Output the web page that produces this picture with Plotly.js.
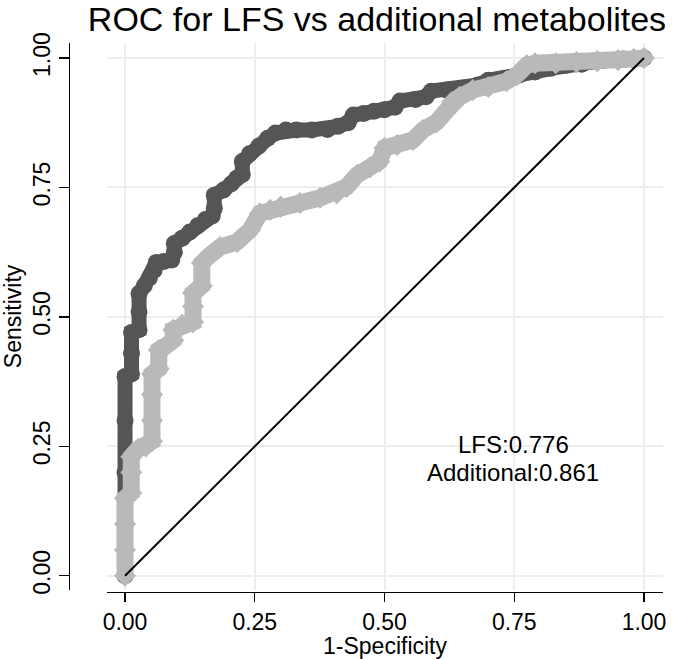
<!DOCTYPE html>
<html>
<head>
<meta charset="utf-8">
<script src="https://cdn.plot.ly/plotly-3.0.1.min.js"></script>
<style>html,body{margin:0;padding:0;background:#fff;}#chart{width:680px;height:659px;}</style>
</head>
<body>
<div id="chart"></div>
<script>
// Dark curve (Additional, AUC 0.861)
const fprAdditional = [0, 0, 0, 0, 0, 0.0125, 0.0125, 0.0125, 0.027, 0.027, 0.027, 0.037, 0.047, 0.056, 0.06, 0.075, 0.09, 0.095, 0.095, 0.11, 0.125, 0.14, 0.155, 0.168, 0.172, 0.172, 0.19, 0.205, 0.215, 0.226, 0.226, 0.24, 0.258, 0.275, 0.29, 0.31, 0.33, 0.36, 0.39, 0.41, 0.43, 0.44, 0.46, 0.48, 0.50, 0.52, 0.53, 0.56, 0.58, 0.59, 0.62, 0.65, 0.68, 0.70, 0.73, 0.76, 0.79, 0.82, 0.85, 0.88, 0.92, 0.96, 1];
const tprAdditional = [0, 0.10, 0.20, 0.30, 0.385, 0.39, 0.43, 0.47, 0.475, 0.51, 0.545, 0.56, 0.575, 0.59, 0.605, 0.607, 0.61, 0.625, 0.642, 0.652, 0.664, 0.676, 0.688, 0.695, 0.71, 0.735, 0.745, 0.757, 0.768, 0.775, 0.80, 0.815, 0.83, 0.845, 0.855, 0.861, 0.861, 0.861, 0.862, 0.868, 0.875, 0.89, 0.893, 0.897, 0.90, 0.905, 0.917, 0.92, 0.925, 0.936, 0.938, 0.94, 0.948, 0.957, 0.96, 0.967, 0.973, 0.98, 0.986, 0.988, 0.995, 0.998, 1];
// Light curve (LFS, AUC 0.776)
const fprLFS = [0, 0, 0, 0, 0.012, 0.012, 0.012, 0.025, 0.04, 0.052, 0.052, 0.052, 0.052, 0.065, 0.065, 0.08, 0.093, 0.093, 0.11, 0.131, 0.131, 0.131, 0.148, 0.148, 0.16, 0.183, 0.216, 0.241, 0.26, 0.28, 0.30, 0.337, 0.376, 0.408, 0.427, 0.447, 0.472, 0.49, 0.50, 0.524, 0.555, 0.574, 0.60, 0.62, 0.63, 0.645, 0.67, 0.70, 0.735, 0.755, 0.774, 0.79, 0.83, 0.87, 0.91, 0.95, 0.98, 1];
const tprLFS = [0, 0.05, 0.10, 0.15, 0.16, 0.20, 0.23, 0.245, 0.25, 0.26, 0.30, 0.35, 0.39, 0.40, 0.436, 0.445, 0.455, 0.475, 0.485, 0.49, 0.52, 0.546, 0.56, 0.604, 0.616, 0.635, 0.645, 0.668, 0.70, 0.707, 0.713, 0.72, 0.73, 0.739, 0.751, 0.774, 0.789, 0.80, 0.826, 0.832, 0.842, 0.861, 0.876, 0.899, 0.915, 0.925, 0.938, 0.944, 0.955, 0.967, 0.986, 0.99, 0.99, 0.992, 0.994, 0.996, 0.998, 1];
// Reference line
const refX = [0, 1];
const refY = [0, 1];
const tickVals = [0, 0.25, 0.5, 0.75, 1];
const tickText = ["0.00", "0.25", "0.50", "0.75", "1.00"];
const aucLabels = ["LFS:0.776", "Additional:0.861"];

const FONT = "Liberation Sans, Arial, Helvetica, sans-serif";

const traces = [
  {x: fprAdditional, y: tprAdditional, type: 'scatter', mode: 'lines+markers',
   line: {color: '#555555', width: 15},
   marker: {symbol: 'circle', size: 17, color: '#555555', line: {width: 0}},
   hoverinfo: 'skip', showlegend: false},
  {x: fprLFS, y: tprLFS, type: 'scatter', mode: 'lines+markers',
   line: {color: '#b9b9b9', width: 17},
   marker: {symbol: 'diamond', size: 17, color: '#b9b9b9', line: {width: 0}},
   hoverinfo: 'skip', showlegend: false},
  {x: refX, y: refY, type: 'scatter', mode: 'lines',
   line: {color: '#000000', width: 2},
   hoverinfo: 'skip', showlegend: false}
];

const layout = {
  width: 680, height: 659,
  margin: {l: 69, r: 17, t: 43, b: 67, pad: 0},
  paper_bgcolor: '#ffffff', plot_bgcolor: '#ffffff',
  font: {family: FONT, color: '#000000', size: 23},
  title: {text: 'ROC for LFS vs additional metabolites', font: {family: FONT, size: 34, color: '#000'},
          xref: 'paper', x: 0.5185, xanchor: 'center', yref: 'container', y: 0.971, yanchor: 'middle'},
  xaxis: {
    domain: [0.064, 1], anchor: 'free', position: 0,
    range: [-0.0347, 1.0366], tickvals: tickVals, ticktext: tickText,
    showgrid: true, gridcolor: '#eeeeee', gridwidth: 2, zeroline: false,
    showline: true, linecolor: '#000', linewidth: 1.2,
    ticks: 'outside', ticklen: 9, tickwidth: 1.2, tickcolor: '#000',
    tickfont: {family: FONT, size: 23},
    title: {text: '1-Specificity', font: {family: FONT, size: 23}, standoff: 1}
  },
  yaxis: {
    domain: [0.004, 1], anchor: 'free', position: 0,
    range: [-0.027, 1.029], tickvals: tickVals, ticktext: tickText,
    showgrid: true, gridcolor: '#eeeeee', gridwidth: 2, zeroline: false,
    showline: true, linecolor: '#000', linewidth: 1.2,
    ticks: 'outside', ticklen: 10, tickwidth: 1.2, tickcolor: '#000',
    tickangle: -90,
    tickfont: {family: FONT, size: 23},
    title: {text: 'Sensitivity', font: {family: FONT, size: 23}, standoff: 6}
  },
  annotations: [
    {x: 0.7476, y: 0.254, xref: 'x', yref: 'y', text: aucLabels[0], showarrow: false,
     xanchor: 'center', yanchor: 'middle', font: {family: FONT, size: 24, color: '#000'}},
    {x: 0.7476, y: 0.199, xref: 'x', yref: 'y', text: aucLabels[1], showarrow: false,
     xanchor: 'center', yanchor: 'middle', font: {family: FONT, size: 24, color: '#000'}}
  ]
};

Plotly.newPlot('chart', traces, layout, {displayModeBar: false, staticPlot: true});
</script>
</body>
</html>
